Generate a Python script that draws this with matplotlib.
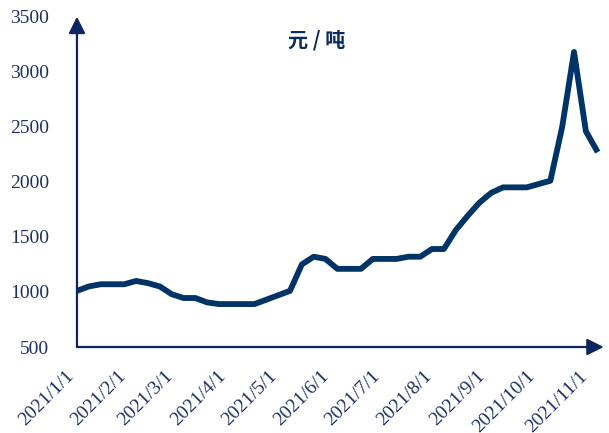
import matplotlib.pyplot as plt
import matplotlib.dates as mdates
import numpy as np
import pandas as pd

# weekly prices (yuan per ton)
start_date = "2021-01-01"
n_weeks = 45
prices = [1010, 1050, 1070, 1070, 1070, 1100, 1080, 1050, 980, 945,
          945, 905, 890, 890, 890, 890, 930, 970, 1010, 1250,
          1320, 1300, 1210, 1210, 1210, 1300, 1300, 1300, 1320, 1320,
          1390, 1390, 1560, 1690, 1810, 1900, 1950, 1950, 1950, 1980,
          2010, 2500, 3180, 2460, 2270]
tick_dates = pd.date_range("2021-01-01", "2021-11-01", freq="MS")
yticks = [500, 1000, 1500, 2000, 2500, 3000, 3500]

line_color = "#003366"
axis_color = "#0d2560"
text_color = "#1c2f63"

dates = pd.date_range(start_date, periods=n_weeks, freq="7D")

fig = plt.figure(figsize=(6.09, 4.33), dpi=100)
ax = fig.add_axes([0.1264, 0.1986, 0.8606, 0.7628])

ax.plot(dates, prices, color=line_color, lw=4.2, solid_joinstyle="round",
        solid_capstyle="butt", clip_on=False)

ax.set_ylim(500, 3500)
ax.set_xlim(pd.Timestamp("2021-01-01"), pd.Timestamp("2021-01-01") + pd.Timedelta(days=310))
ax.set_yticks(yticks)
ax.set_xticks(tick_dates)
ax.set_xticklabels([f"{d.year}/{d.month}/{d.day}" for d in tick_dates],
                   rotation=45, ha="right", rotation_mode="default")

for s in ax.spines.values():
    s.set_visible(False)

ax.tick_params(axis="y", length=0, pad=20, labelsize=14, labelcolor=text_color)
ax.tick_params(axis="x", length=0, pad=15, labelsize=14, labelcolor=text_color)
for lbl in ax.get_xticklabels() + ax.get_yticklabels():
    lbl.set_family("Liberation Serif")

# axes with arrow heads
arrow = dict(arrowstyle="-|>,head_length=1.0,head_width=0.5", color=axis_color,
             lw=1.6, shrinkA=0, shrinkB=0)
ax.annotate("", xy=(0, 1.0), xytext=(0, 0), xycoords="axes fraction",
            arrowprops=arrow, annotation_clip=False)
ax.annotate("", xy=(1.005, 0), xytext=(0, 0), xycoords="axes fraction",
            arrowprops=arrow, annotation_clip=False)

fig.text(0.52, 0.908, "元 / 吨", ha="center", va="center", fontsize=14.5,
         fontweight="bold", color="#0b2a5e", family=["Noto Sans CJK SC", "DejaVu Sans"])

fig.savefig("out.png", dpi=100)
